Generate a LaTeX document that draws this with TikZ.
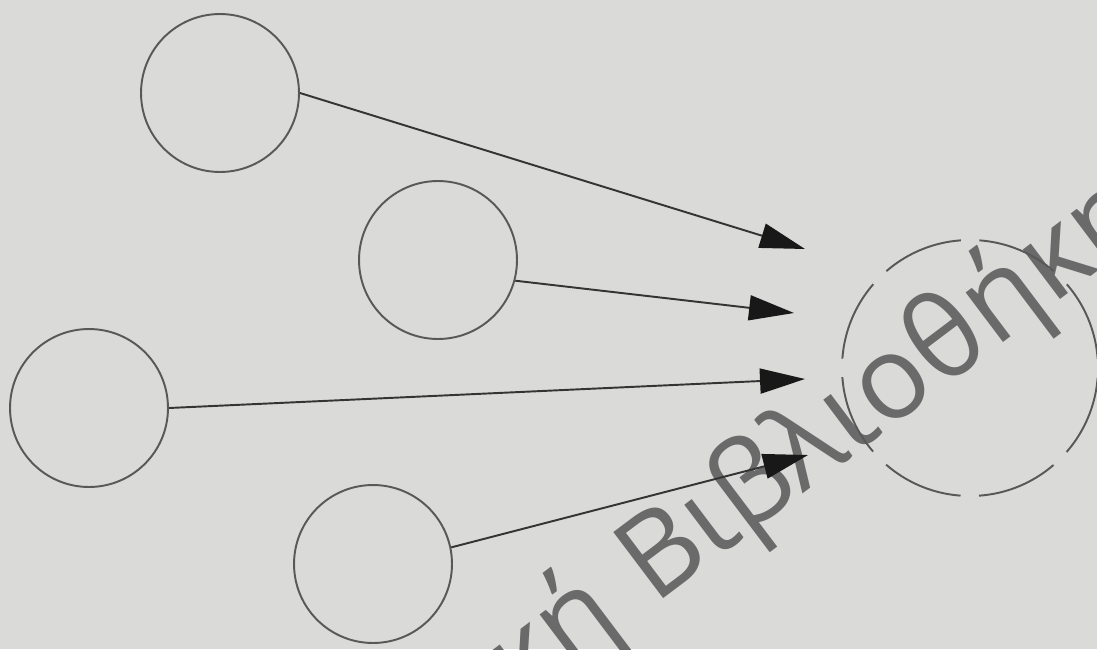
\documentclass[tikz,border=0pt]{standalone}
\usepackage{fontspec}
\usepackage{xcolor}
\usetikzlibrary{arrows.meta}

\newfontfamily\markfont{Open Sans}

\definecolor{paper}{RGB}{218,218,217}
\definecolor{ringgray}{RGB}{88,88,88}
\definecolor{linkgray}{RGB}{52,52,52}
\definecolor{tipblack}{RGB}{24,24,24}
\definecolor{markgray}{RGB}{106,106,106}

\begin{document}
\begin{tikzpicture}[x=0.02cm, y=-0.02cm,
	unit/.style={circle, draw=ringgray, line width=1.1pt, minimum size=3.16cm, inner sep=0pt},
	sumunit/.style={circle, draw=ringgray, line width=1.1pt, minimum size=5.12cm, inner sep=0pt,
		dash pattern=on 1.64cm off 0.37cm, dash phase=1.825cm},
	link/.style={draw=linkgray, line width=1.1pt,
		-{Triangle[length=0.9cm, width=0.5cm, color=tipblack]}},
	watermark/.style={text=markgray, inner sep=0pt, rotate=37,
		font=\markfont\fontsize{66}{66}\selectfont}]

		% Paper background, picture is cut to it
		\useasboundingbox (0,0) rectangle (1097,649);
		\fill[paper] (0,0) rectangle (1097,649);
		\clip (0,0) rectangle (1097,649);

		% Watermark across the page
		\node[watermark, anchor=base west] (markb) at (654,606) {Βιβλιοθήκη};
		\node[watermark, anchor=base east] (markk) at (markb.base west) {κή\kern0.3em};

		% Input units
		\node[unit] (u1) at (220,93) {};
		\node[unit] (u2) at (438,260) {};
		\node[unit] (u3) at (89,408) {};
		\node[unit] (u4) at (373,564) {};

		% Receiving unit (dashed), cut by the right edge
		\node[sumunit] (sum) at (970,368) {};

		% Where the arrow tips end
		\coordinate (tip1) at (805,249);
		\coordinate (tip2) at (794,313);
		\coordinate (tip3) at (805,379);
		\coordinate (tip4) at (808,455);

		% Connections
		\draw[link] (u1.east) -- (tip1);
		\draw[link] (u2.-15) -- (tip2);
		\draw[link] (u3.east) -- (tip3);
		\draw[link] (u4.12) -- (tip4);
	\end{tikzpicture}
\end{document}
